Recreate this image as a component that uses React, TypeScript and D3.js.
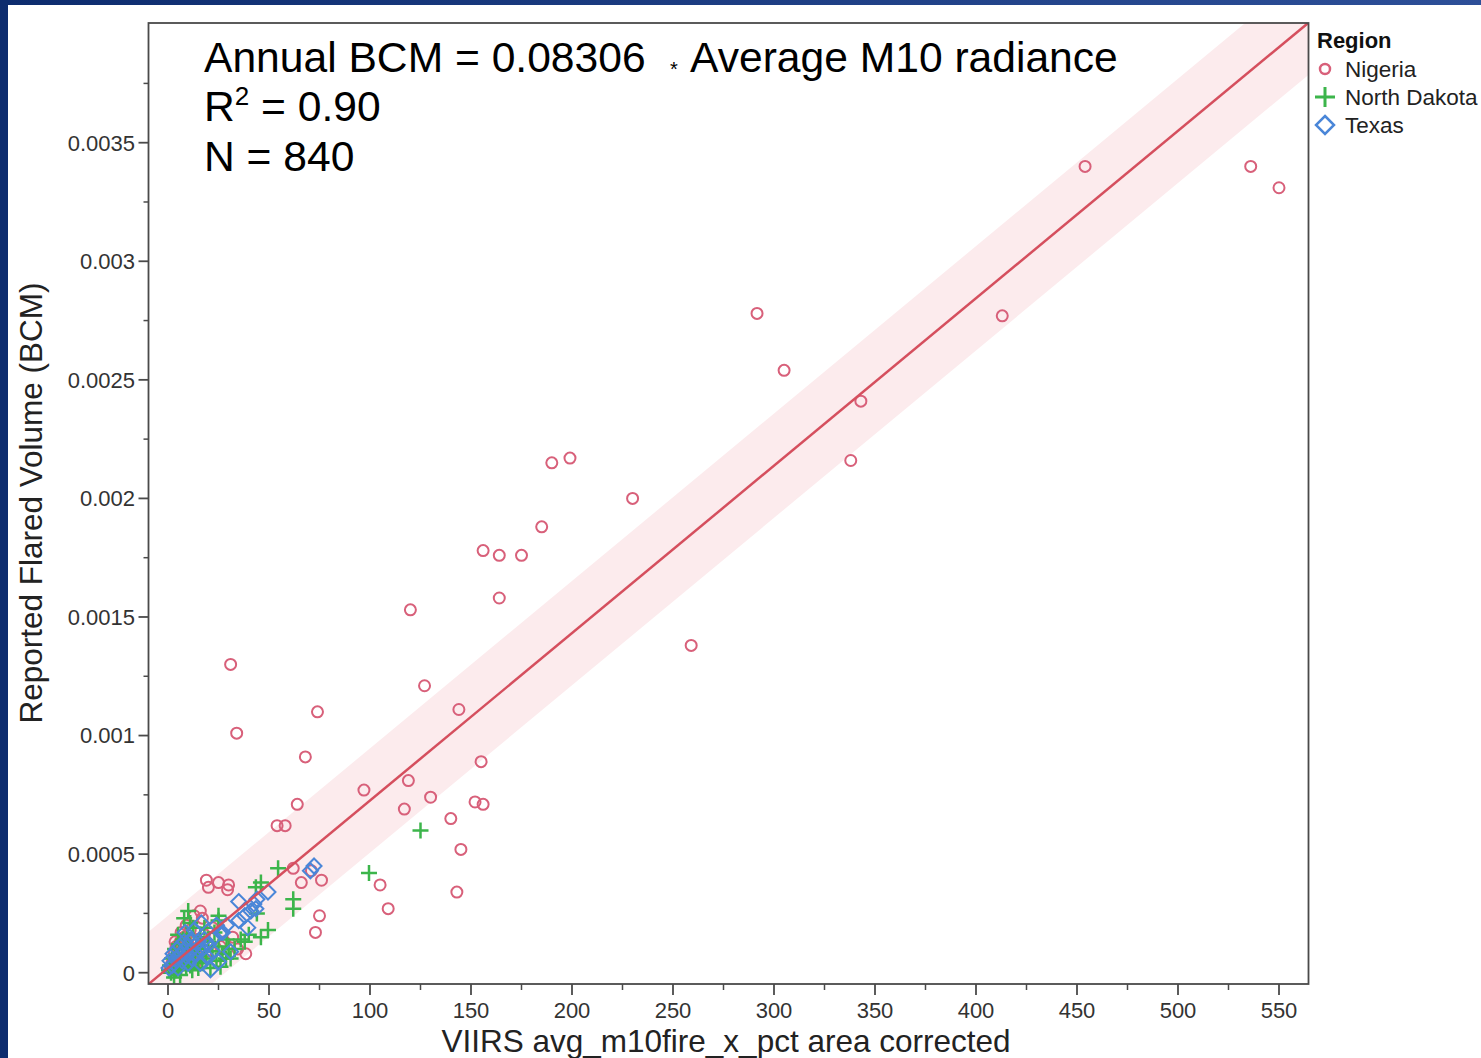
import React, { useEffect, useRef } from 'react';
import * as d3 from 'd3';

// [x, y] pairs
const nigeria: [number, number][] = [
  [454, 0.0034], [536, 0.0034], [550, 0.00331], [291.6, 0.00278], [413, 0.00277],
  [305, 0.00254], [343, 0.00241], [338, 0.00216], [190, 0.00215], [199, 0.00217],
  [230, 0.002], [185, 0.00188], [156, 0.00178], [164, 0.00176], [175, 0.00176],
  [164, 0.00158], [259, 0.00138], [120, 0.00153], [31, 0.0013], [127, 0.00121],
  [34, 0.00101], [74, 0.0011], [144, 0.00111], [68, 0.00091], [155, 0.00089],
  [97, 0.00077], [119, 0.00081], [130, 0.00074], [117, 0.00069], [64, 0.00071],
  [54, 0.00062], [58, 0.00062], [140, 0.00065], [152, 0.00072], [156, 0.00071],
  [145, 0.00052], [62, 0.00044], [66, 0.00038], [76, 0.00039], [71, 0.00043],
  [105, 0.00037], [109, 0.00027], [143, 0.00034], [75, 0.00024], [73, 0.00017],
  [19, 0.00039], [20, 0.00036], [25, 0.00038], [30, 0.00037], [29.5, 0.00035],
  [13, 0.00024], [17, 0.00023], [34.5, 0.0001], [38.5, 0.00008],
  [2, 0.00004], [3, 0.00008], [4, 0.00011], [5, 0.00006], [6, 0.00013], [7, 0.00009],
  [8, 0.00015], [9, 0.00005], [10, 0.00012], [11, 0.00018], [12, 0.00008],
  [14, 0.00014], [15, 0.0001], [18, 0.00016], [20, 0.00012], [22, 0.00019],
  [24, 0.00007], [26, 0.00011], [28, 0.00013], [1, 0.00002], [9, 0.0002], [16, 0.00026],
  [3.5, 0.00013], [6.5, 0.00017], [13.5, 0.00004], [19, 0.00009], [32, 0.00015],
];

const northDakota: [number, number][] = [
  [125, 0.0006], [99.5, 0.00042], [54.5, 0.00044], [46, 0.00038], [43.5, 0.00036],
  [62, 0.00031], [62, 0.00027], [49.5, 0.00018], [46, 0.00015], [10, 0.00026],
  [8, 0.00023], [25, 0.00024], [25, 0.00022], [36, 0.00014], [26, 0.000025],
  [28.7, 0.00006], [40, 0.00016], [44, 0.00025],
  [0.5, 0.00001], [1, 0.00003], [1.5, 0], [2, 0.00006], [2.5, 0.00002], [3, 0.00004],
  [3.5, 0.0001], [4, 0.00001], [4.5, 0.00007], [5, 0.00003], [5.5, 0.00012], [6, 0.00005],
  [6.5, 0.00002], [7, 0.00008], [7.5, 0.00014], [8, 0.00004], [8.5, 0.0001], [9, 0.00002],
  [9.5, 0.00016], [10, 0.00006], [10.5, 0.00012], [11, 0.00003], [12, 0.00009],
  [12.5, 0.00019], [13, 0.00005], [14, 0.00011], [15, 0.00007], [16, 0.00015],
  [17, 0.00004], [18, 0.0001], [19, 0.00006], [20, 0.00013], [21, 0.00002], [22, 0.00009],
  [23, 0.00017], [24, 0.00005], [25, 0.00011], [27, 0.00008], [29, 0.00014],
  [31, 0.00006], [33, 0.0001], [3, -0.00002], [6, -0.00001], [12, 0.00001],
  [5, 0.00016], [11, 0.00021], [15, 0.00002], [18, 0.00019], [30, 0.0001], [38, 0.00013],
];

const texas: [number, number][] = [
  [72.3, 0.00045], [70.5, 0.00043], [49.5, 0.00034], [35, 0.0003], [42.5, 0.00029],
  [43.5, 0.00027], [44, 0.00031], [41, 0.00026], [38, 0.00024], [39.5, 0.00019],
  [35, 0.00022], [27, 0.00017], [31, 0.000088], [25, 0.000046], [21, 0.0000126],
  [0.5, 0.00002], [1, 0.00005], [2, 0.00003], [2.5, 0.00008], [3, 0.00004], [4, 0.00006],
  [4.5, 0.0001], [5, 0.00002], [5.5, 0.00007], [6, 0.00011], [7, 0.00005], [7.5, 0.00009],
  [8, 0.00013], [9, 0.00007], [9.5, 0.00011], [10, 0.00004], [11, 0.00009], [11.5, 0.00014],
  [12, 0.00006], [13, 0.00011], [14, 0.00008], [15, 0.00013], [16, 0.00004], [17, 0.0001],
  [18, 0.00014], [19, 0.00007], [20, 0.00012], [22, 0.00009], [23, 0.00015], [26, 0.00017],
  [29, 0.0002], [8.5, 0.00017], [13, 0.00018], [16.5, 0.00021], [24, 0.0002],
];

const xTicks = [0, 50, 100, 150, 200, 250, 300, 350, 400, 450, 500, 550];
const xMinorTicks = [25, 75, 125, 175, 225, 275, 325, 375, 425, 475, 525];
const yTicks = [0, 0.0005, 0.001, 0.0015, 0.002, 0.0025, 0.003, 0.0035];
const yTickLabels = ['0', '0.0005', '0.001', '0.0015', '0.002', '0.0025', '0.003', '0.0035'];
const yMinorTicks = [0.00025, 0.00075, 0.00125, 0.00175, 0.00225, 0.00275, 0.00325, 0.00375];

// fit line and band
const fitSlope = 7.06e-6;
const fitIntercept = 0.00002;
const bandHalfWidth = 0.00022;

const legendItems = ['Nigeria', 'North Dakota', 'Texas'];

const RED = '#d8607a';
const GREEN = '#3cb54b';
const BLUE = '#4a86d8';
const FONT = '"Liberation Sans", Arial, sans-serif';

const App: React.FC = () => {
  const svgRef = useRef<SVGSVGElement>(null);

  useEffect(() => {
    if (!svgRef.current) return;
    document.body.style.margin = '0';
    const svg = d3.select(svgRef.current);
    svg.selectAll('*').remove();

    const W = 1481, H = 1058;
    const left = 148.5, right = 1308.5, top = 23, bottom = 984;

    const x = d3.scaleLinear().domain([0, 550]).range([168, 1279]);
    const y = d3.scaleLinear().domain([0, 0.0035]).range([972.7, 142.7]);

    // background with blue frame
    const defs = svg.append('defs');
    const grad = defs.append('linearGradient').attr('id', 'topbar');
    grad.append('stop').attr('offset', '0%').attr('stop-color', '#0d2c6e');
    grad.append('stop').attr('offset', '100%').attr('stop-color', '#2d4f98');
    defs.append('clipPath').attr('id', 'plotclip')
      .append('rect').attr('x', left).attr('y', top)
      .attr('width', right - left).attr('height', bottom - top);

    svg.append('rect').attr('width', W).attr('height', H).attr('fill', '#fff');
    svg.append('rect').attr('width', W).attr('height', 5).attr('fill', 'url(#topbar)');
    svg.append('rect').attr('width', 8).attr('height', H).attr('fill', '#0d2c6e');

    const plot = svg.append('g').attr('clip-path', 'url(#plotclip)');

    const xs = [-20, 600];
    const band = d3.area<number>()
      .x(d => x(d))
      .y0(d => y(fitIntercept + fitSlope * d - bandHalfWidth))
      .y1(d => y(fitIntercept + fitSlope * d + bandHalfWidth));
    plot.append('path').datum(xs).attr('d', band).attr('fill', '#fcebed');

    // points
    plot.selectAll('.ng').data(nigeria).enter().append('circle')
      .attr('cx', d => x(d[0])).attr('cy', d => y(d[1])).attr('r', 5.5)
      .attr('fill', 'none').attr('stroke', RED).attr('stroke-width', 2);

    plot.selectAll('.nd').data(northDakota).enter().append('path')
      .attr('transform', d => `translate(${x(d[0])},${y(d[1])})`)
      .attr('d', 'M-8,0H8M0,-8V8')
      .attr('stroke', GREEN).attr('stroke-width', 2.5).attr('fill', 'none');

    plot.selectAll('.tx').data(texas).enter().append('path')
      .attr('transform', d => `translate(${x(d[0])},${y(d[1])})`)
      .attr('d', 'M0,-7.5L7.5,0L0,7.5L-7.5,0Z')
      .attr('stroke', BLUE).attr('stroke-width', 2).attr('fill', 'none');

    const line = d3.line<number>().x(d => x(d)).y(d => y(fitIntercept + fitSlope * d));
    plot.append('path').datum(xs).attr('d', line)
      .attr('stroke', '#d54f5e').attr('stroke-width', 2.5).attr('fill', 'none');

    // frame
    svg.append('rect').attr('x', left).attr('y', top)
      .attr('width', right - left).attr('height', bottom - top)
      .attr('fill', 'none').attr('stroke', '#4a4a4a').attr('stroke-width', 1.8);

    // y ticks
    const gy = svg.append('g');
    gy.selectAll('.ymaj').data(yTicks).enter().append('line')
      .attr('x1', left - 10).attr('x2', left).attr('y1', d => y(d)).attr('y2', d => y(d))
      .attr('stroke', '#4a4a4a').attr('stroke-width', 1.8);
    gy.selectAll('.ymin').data(yMinorTicks).enter().append('line')
      .attr('x1', left - 5).attr('x2', left).attr('y1', d => y(d)).attr('y2', d => y(d))
      .attr('stroke', '#4a4a4a').attr('stroke-width', 1.5);
    gy.selectAll('.ylab').data(yTicks).enter().append('text')
      .attr('x', 135).attr('y', d => y(d)).attr('dy', '0.36em')
      .attr('text-anchor', 'end').attr('font-family', FONT).attr('font-size', 22)
      .attr('fill', '#333').text((d, i) => yTickLabels[i]);

    // x ticks
    const gx = svg.append('g');
    gx.selectAll('.xmaj').data(xTicks).enter().append('line')
      .attr('x1', d => x(d)).attr('x2', d => x(d)).attr('y1', bottom).attr('y2', bottom + 11)
      .attr('stroke', '#4a4a4a').attr('stroke-width', 1.8);
    gx.selectAll('.xmin').data(xMinorTicks).enter().append('line')
      .attr('x1', d => x(d)).attr('x2', d => x(d)).attr('y1', bottom).attr('y2', bottom + 6)
      .attr('stroke', '#4a4a4a').attr('stroke-width', 1.5);
    gx.selectAll('.xlab').data(xTicks).enter().append('text')
      .attr('x', d => x(d)).attr('y', 1018)
      .attr('text-anchor', 'middle').attr('font-family', FONT).attr('font-size', 22)
      .attr('fill', '#333').text(d => String(d));

    // axis titles
    svg.append('text').attr('x', 726).attr('y', 1052).attr('text-anchor', 'middle')
      .attr('font-family', FONT).attr('font-size', 31.5).attr('fill', '#222')
      .text('VIIRS avg_m10fire_x_pct area corrected');
    svg.append('text').attr('transform', 'translate(42,503) rotate(-90)')
      .attr('text-anchor', 'middle').attr('font-family', FONT).attr('font-size', 31.5)
      .attr('fill', '#222').text('Reported Flared Volume (BCM)');

    // annotation
    const ann = svg.append('g').attr('font-family', FONT).attr('fill', '#000');
    ann.append('text').attr('x', 204).attr('y', 72).attr('font-size', 42.6)
      .text('Annual BCM = 0.08306');
    ann.append('text').attr('x', 670).attr('y', 76).attr('font-size', 20).text('*');
    ann.append('text').attr('x', 690).attr('y', 72).attr('font-size', 42.6)
      .text('Average M10 radiance');
    const r2 = ann.append('text').attr('x', 204).attr('y', 121).attr('font-size', 42.6);
    r2.append('tspan').text('R');
    r2.append('tspan').attr('font-size', 26).attr('dy', -16).text('2');
    r2.append('tspan').attr('dy', 16).text(' = 0.90');
    ann.append('text').attr('x', 204).attr('y', 171).attr('font-size', 42.6).text('N = 840');

    // legend
    const lg = svg.append('g').attr('font-family', FONT);
    lg.append('text').attr('x', 1317).attr('y', 48).attr('font-size', 22)
      .attr('font-weight', 'bold').attr('fill', '#111').text('Region');
    lg.selectAll('.lt').data(legendItems).enter().append('text')
      .attr('x', 1345).attr('y', (d, i) => 77 + i * 28).attr('font-size', 22.5)
      .attr('fill', '#222').text(d => d);
    lg.append('circle').attr('cx', 1325).attr('cy', 69).attr('r', 5)
      .attr('fill', 'none').attr('stroke', RED).attr('stroke-width', 2.5);
    lg.append('path').attr('d', 'M1315,97H1335M1325,87V107')
      .attr('stroke', GREEN).attr('stroke-width', 3);
    lg.append('path').attr('d', 'M1325,116L1334,125L1325,134L1316,125Z')
      .attr('fill', 'none').attr('stroke', BLUE).attr('stroke-width', 2.5);
  }, []);

  return (
    <svg ref={svgRef} width={1481} height={1058}
      style={{ position: 'absolute', left: 0, top: 0, display: 'block' }} />
  );
};

export default App;
